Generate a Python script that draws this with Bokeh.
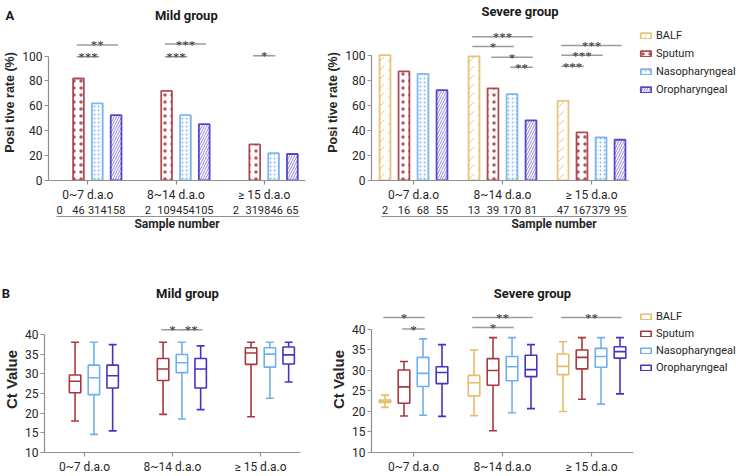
from bokeh.plotting import figure
from bokeh.models import (ColumnDataSource, LinearAxis, FixedTicker, Range1d,
                          Legend, LegendItem, LabelSet)
from bokeh.layouts import column, row
from bokeh.embed import file_html
from bokeh.resources import INLINE

# ---------------- data ----------------
periods = ["0~7 d.a.o", "8~14 d.a.o", "\u2265 15 d.a.o"]
specimens = ["BALF", "Sputum", "Nasopharyngeal", "Oropharyngeal"]

# Panel A: positive rate (%)
mild_rate_sputum = [82, 72, 29]
mild_rate_naso = [62, 52.5, 22]
mild_rate_oro = [52.5, 45.3, 21.3]
severe_rate_balf = [100, 99, 63.5]
severe_rate_sputum = [87, 73.5, 38.3]
severe_rate_naso = [85, 68.8, 34.4]
severe_rate_oro = [72, 48, 32.5]

# sample numbers per period
mild_n_balf = [0, 2, 2]
mild_n_sputum = [46, 109, 319]
mild_n_naso = [314, 454, 846]
mild_n_oro = [158, 105, 65]
severe_n_balf = [2, 13, 47]
severe_n_sputum = [16, 39, 167]
severe_n_naso = [68, 170, 379]
severe_n_oro = [55, 81, 95]

# Panel B: Ct value box stats (min, q1, median, q3, max) per period
mild_ct_sputum = [(18.0, 25.2, 28.1, 29.7, 38.0), (19.7, 28.3, 31.2, 33.9, 38.0), (19.1, 32.4, 35.3, 36.6, 38.0)]
mild_ct_naso = [(14.6, 24.7, 29.0, 32.2, 38.0), (18.5, 30.3, 32.8, 34.9, 38.0), (23.8, 31.7, 35.0, 36.6, 38.0)]
mild_ct_oro = [(15.5, 26.4, 29.5, 32.2, 37.4), (20.9, 26.4, 31.2, 33.9, 37.1), (27.9, 32.5, 34.8, 36.8, 38.0)]
severe_ct_balf = [(21.0, 22.2, 22.5, 22.8, 24.0), (19.0, 23.8, 27.0, 28.8, 35.0), (20.0, 29.0, 31.0, 34.0, 37.0)]
severe_ct_sputum = [(18.9, 22.0, 26.0, 30.1, 32.2), (15.3, 26.4, 30.0, 32.9, 38.0), (23.0, 30.4, 33.2, 35.0, 38.0)]
severe_ct_naso = [(19.1, 26.1, 29.3, 33.2, 37.7), (19.7, 27.5, 30.9, 33.4, 38.0), (21.8, 30.8, 33.4, 35.4, 38.0)]
severe_ct_oro = [(18.8, 26.8, 29.5, 30.9, 36.3), (20.7, 28.5, 30.2, 33.7, 36.3), (24.3, 33.0, 34.6, 35.8, 38.0)]

# significance marks: period, from specimen, to specimen, level, text
a_mild_sig_period = [0, 0, 1, 1, 2]
a_mild_sig_from = [1, 1, 1, 1, 1]
a_mild_sig_to = [2, 3, 2, 3, 2]
a_mild_sig_y = [99.4, 109.0, 99.4, 109.7, 100.2]
a_mild_sig_text = ["***", "**", "***", "***", "*"]

a_sev_sig_period = [1, 1, 1, 1, 2, 2, 2]
a_sev_sig_from = [0, 0, 1, 2, 0, 0, 0]
a_sev_sig_to = [3, 2, 3, 3, 3, 2, 1]
a_sev_sig_y = [114.7, 106.8, 98.2, 90.3, 107.6, 99.8, 91.1]
a_sev_sig_text = ["***", "*", "*", "**", "***", "***", "***"]

b_mild_sig_period = [1, 1]
b_mild_sig_from = [1, 2]
b_mild_sig_to = [2, 3]
b_mild_sig_y = [41.2, 41.2]
b_mild_sig_text = ["*", "**"]

b_sev_sig_period = [0, 0, 1, 1, 2]
b_sev_sig_from = [0, 1, 0, 0, 0]
b_sev_sig_to = [2, 2, 3, 2, 3]
b_sev_sig_y = [42.9, 40.1, 42.9, 40.5, 42.9]
b_sev_sig_text = ["*", "*", "**", "*", "**"]

# ---------------- style ----------------
GRAY = "#8f8f8f"
SIGGRAY = "#9c9c9c"
TXT = "#262626"
COLORS = ["#E6BD6C", "#A9393F", "#70B0EC", "#4535C6"]
HATCH = ["right_diagonal_dash", "dot", "dot", "right_diagonal_line"]
HSCALE = [9, 7, 4, 5]
HWEIGHT = [1.0, 1.2, 1.0, 0.7]
FONT = "Roboto"
BFONT = "Liberation Sans"
PAD = "\u00a0" * 24
offs = [-0.32, -0.107, 0.107, 0.32]
BAR_W = 0.122
BOX_W = 0.13
CAP = 0.045


def make_fig(width, height, xr, yr, mbl, mbr, mbt, mbb):
    p = figure(width=width, height=height, x_range=Range1d(*xr), y_range=Range1d(*yr),
               output_backend="svg", toolbar_location=None,
               x_axis_location=None, y_axis_location=None,
               min_border_left=mbl, min_border_right=mbr,
               min_border_top=mbt, min_border_bottom=mbb)
    p.outline_line_color = None
    p.xgrid.visible = False
    p.ygrid.visible = False
    p.background_fill_color = "white"
    p.border_fill_color = "white"
    return p


def style_axis(ax, size="12px"):
    ax.axis_line_color = GRAY
    ax.axis_line_width = 1.2
    ax.major_tick_line_color = GRAY
    ax.major_tick_line_width = 1.2
    ax.major_tick_in = 0
    ax.major_tick_out = 4
    ax.minor_tick_line_color = None
    ax.major_label_text_font = FONT
    ax.major_label_text_font_size = size
    ax.major_label_text_color = TXT
    ax.major_label_standoff = 2
    ax.axis_label_text_font = BFONT
    ax.axis_label_text_font_style = "bold"
    ax.axis_label_text_font_size = "13px"
    ax.axis_label_text_color = TXT
    ax.axis_label_standoff = 2


def add_heading_axis(p, xs, texts, standoff):
    # headings (panel letter + group title) written as labels of a bare axis above the frame
    ax = LinearAxis(ticker=FixedTicker(ticks=xs),
                    major_label_overrides={x: t for x, t in zip(xs, texts)})
    style_axis(ax, "13px")
    ax.axis_line_color = None
    ax.major_tick_line_color = None
    ax.major_tick_out = 0
    ax.major_label_text_font_style = "bold"
    ax.major_label_text_color = "#1a1a1a"
    ax.major_label_standoff = standoff
    p.add_layout(ax, "above")


def add_y_axis(p, ticks, bounds, label, size):
    ay = LinearAxis(ticker=FixedTicker(ticks=ticks), bounds=bounds, axis_label=label)
    style_axis(ay)
    ay.axis_label_text_font_size = size
    p.add_layout(ay, "left")


def add_period_axis(p, bounds):
    ticks = [0, 1, 2]
    ax = LinearAxis(ticker=FixedTicker(ticks=ticks), bounds=bounds,
                    major_label_overrides={t: periods[t] for t in ticks})
    style_axis(ax)
    ax.major_label_standoff = 3
    p.add_layout(ax, "below")


def add_count_axes(p, counts):
    ticks, labels = [], {}
    for i in range(3):
        for k in range(4):
            t = round(i + offs[k], 4)
            ticks.append(t)
            labels[t] = str(counts[k][i])
    ax = LinearAxis(ticker=FixedTicker(ticks=ticks), major_label_overrides=labels)
    style_axis(ax, "11px")
    ax.axis_line_color = None
    ax.major_tick_line_color = None
    ax.major_tick_out = 0
    ax.major_label_standoff = 1
    p.add_layout(ax, "below")
    ax3 = LinearAxis(ticker=FixedTicker(ticks=[]), bounds=(-0.36, 2.4), axis_label="Sample number")
    style_axis(ax3)
    ax3.major_tick_out = 0
    ax3.major_label_standoff = 0
    ax3.axis_label_standoff = 0
    ax3.axis_label_text_font = FONT
    ax3.axis_label_text_font_size = "12px"
    p.add_layout(ax3, "below")


def add_bars(p, rates, k):
    src = ColumnDataSource(dict(x=[i + offs[k] for i in range(3)], top=rates))
    return p.vbar(x="x", top="top", bottom=0, width=BAR_W, source=src,
                  fill_color="white", line_color=COLORS[k], line_width=1.8, line_alpha=0.9,
                  hatch_pattern=HATCH[k], hatch_color=COLORS[k], hatch_scale=HSCALE[k],
                  hatch_weight=HWEIGHT[k], hatch_alpha=0.85)


def add_boxes(p, stats, k):
    x = [i + offs[k] for i in range(len(stats))]
    src = ColumnDataSource(dict(
        x=x, c0=[v - CAP for v in x], c1=[v + CAP for v in x],
        b0=[v - BOX_W / 2 for v in x], b1=[v + BOX_W / 2 for v in x],
        mn=[s[0] for s in stats], q1=[s[1] for s in stats], md=[s[2] for s in stats],
        q3=[s[3] for s in stats], mx=[s[4] for s in stats]))
    kw = dict(source=src, line_color=COLORS[k], line_width=1.6)
    p.segment(x0="x", y0="q3", x1="x", y1="mx", **kw)
    p.segment(x0="x", y0="mn", x1="x", y1="q1", **kw)
    p.segment(x0="c0", y0="mx", x1="c1", y1="mx", **kw)
    p.segment(x0="c0", y0="mn", x1="c1", y1="mn", **kw)
    r = p.vbar(x="x", bottom="q1", top="q3", width=BOX_W, fill_color="white", **kw)
    p.segment(x0="b0", y0="md", x1="b1", y1="md", **kw)
    return r


def add_sig(p, per, fr, to, ys, texts):
    x0 = [per[j] + offs[fr[j]] - 0.02 for j in range(len(per))]
    x1 = [per[j] + offs[to[j]] + 0.02 for j in range(len(per))]
    src = ColumnDataSource(dict(x0=x0, x1=x1, y=ys, xm=[(a + b) / 2 for a, b in zip(x0, x1)], t=texts))
    p.segment(x0="x0", y0="y", x1="x1", y1="y", source=src, line_color=SIGGRAY, line_width=1.5)
    p.add_layout(LabelSet(x="xm", y="y", text="t", source=src, text_align="center",
                          text_baseline="middle", text_font=FONT, text_font_size="13px",
                          text_color="#333333"))


def add_legend(p, rends, loc, spacing):
    leg = Legend(items=[LegendItem(label=specimens[k], renderers=[rends[k]]) for k in range(4)],
                 location=loc, orientation="vertical")
    leg.label_text_font = FONT
    leg.label_text_font_size = "11px"
    leg.label_text_color = TXT
    leg.glyph_width = 13
    leg.glyph_height = 7
    leg.label_height = 14
    leg.label_standoff = 4
    leg.spacing = spacing
    leg.padding = 0
    leg.margin = 0
    leg.border_line_color = None
    leg.background_fill_alpha = 0
    p.add_layout(leg)


# ---------------- Panel A, mild ----------------
pa1 = make_fig(322, 243, (-0.447, 2.469), (0, 125.4), 44, 17, 22, 63)
add_heading_axis(pa1, [-0.446, 1.117], ["A" + PAD, "Mild group"], 2)
add_y_axis(pa1, [0, 20, 40, 60, 80, 100], (0, 100), "Posi tive rate (%)", "12.5px")
add_period_axis(pa1, "auto")
add_count_axes(pa1, [mild_n_balf, mild_n_sputum, mild_n_naso, mild_n_oro])
add_bars(pa1, mild_rate_sputum, 1)
add_bars(pa1, mild_rate_naso, 2)
add_bars(pa1, mild_rate_oro, 3)
add_sig(pa1, a_mild_sig_period, a_mild_sig_from, a_mild_sig_to, a_mild_sig_y, a_mild_sig_text)

# ---------------- Panel A, severe ----------------
pa2 = make_fig(414, 243, (-0.472, 3.629), (0, 124.4), 49, 0, 22, 63)
add_heading_axis(pa2, [1.197], ["Severe group"], 6)
add_y_axis(pa2, [0, 20, 40, 60, 80, 100], (0, 100), "Posi tive rate (%)", "12.5px")
add_period_axis(pa2, (-0.472, 2.416))
add_count_axes(pa2, [severe_n_balf, severe_n_sputum, severe_n_naso, severe_n_oro])
ra = [add_bars(pa2, severe_rate_balf, 0), add_bars(pa2, severe_rate_sputum, 1),
      add_bars(pa2, severe_rate_naso, 2), add_bars(pa2, severe_rate_oro, 3)]
add_sig(pa2, a_sev_sig_period, a_sev_sig_from, a_sev_sig_to, a_sev_sig_y, a_sev_sig_text)
add_legend(pa2, ra, (268, 84), 4)

# ---------------- Panel B, mild ----------------
pb1 = make_fig(322, 233, (-0.4545, 2.4545), (10, 47.1), 44, 22, 63, 24)
add_heading_axis(pb1, [-0.4535, 1.170], ["B" + PAD, "Mild group"], 6)
add_y_axis(pb1, [10, 15, 20, 25, 30, 35, 40], (10, 40), "Ct Value", "15px")
add_period_axis(pb1, "auto")
add_boxes(pb1, mild_ct_sputum, 1)
add_boxes(pb1, mild_ct_naso, 2)
add_boxes(pb1, mild_ct_oro, 3)
add_sig(pb1, b_mild_sig_period, b_mild_sig_from, b_mild_sig_to, b_mild_sig_y, b_mild_sig_text)

# ---------------- Panel B, severe ----------------
pb2 = make_fig(414, 233, (-0.472, 3.629), (10, 45.6), 49, 0, 63, 24)
add_heading_axis(pb2, [1.337], ["Severe group"], 6)
add_y_axis(pb2, [10, 15, 20, 25, 30, 35, 40], (10, 40), "Ct Value", "15px")
add_period_axis(pb2, (-0.472, 2.472))
rb = [add_boxes(pb2, severe_ct_balf, 0), add_boxes(pb2, severe_ct_sputum, 1),
      add_boxes(pb2, severe_ct_naso, 2), add_boxes(pb2, severe_ct_oro, 3)]
add_sig(pb2, b_sev_sig_period, b_sev_sig_from, b_sev_sig_to, b_sev_sig_y, b_sev_sig_text)
add_legend(pb2, rb, (268, 78), 3)

layout = column(row(pa1, pa2), row(pb1, pb2))
open("out.html", "w").write(file_html(layout, INLINE))
